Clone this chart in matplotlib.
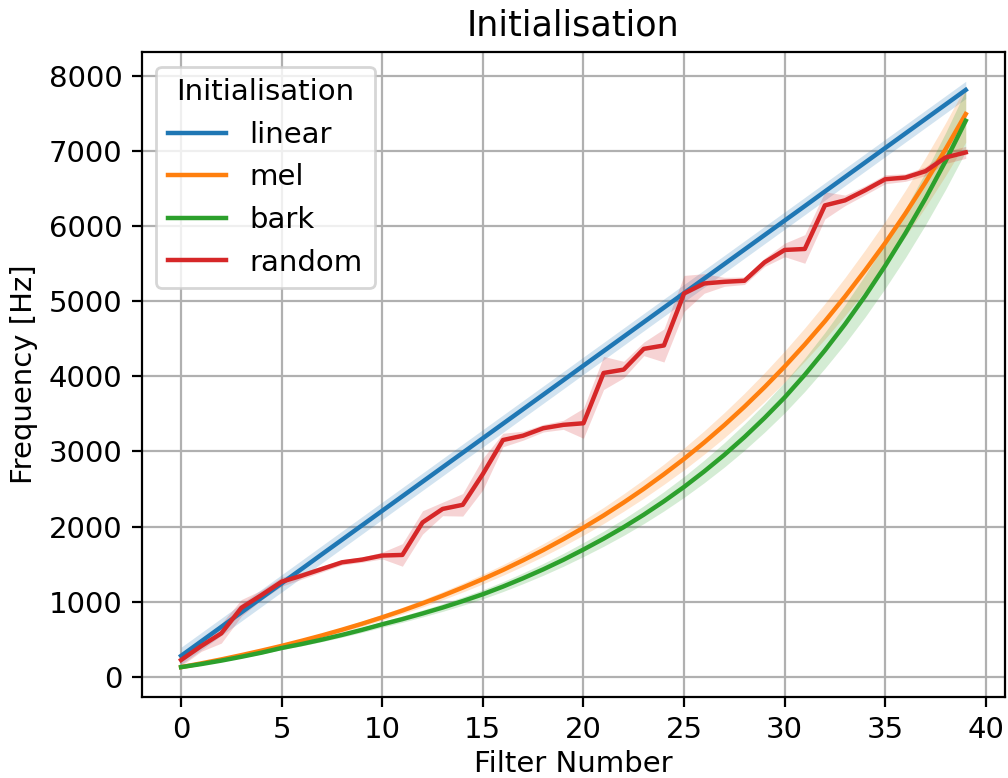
#!/usr/bin/env python3
"""Filter centre frequencies for the different filterbank initialisations."""

import matplotlib

matplotlib.use("Agg")
import matplotlib.pyplot as plt
import numpy as np

filters = list(range(40))

linear = [280, 473, 666, 859, 1052, 1245, 1438, 1632, 1825, 2018,
          2211, 2404, 2597, 2790, 2983, 3176, 3369, 3562, 3755, 3948,
          4142, 4335, 4528, 4721, 4914, 5107, 5300, 5493, 5686, 5879,
          6072, 6265, 6459, 6652, 6845, 7038, 7231, 7424, 7617, 7810]
mel = [130, 180, 233, 290, 350, 413, 481, 552, 628, 708,
       793, 883, 979, 1081, 1189, 1302, 1423, 1552, 1688, 1833,
       1986, 2148, 2321, 2503, 2697, 2901, 3119, 3350, 3595, 3855,
       4130, 4423, 4732, 5061, 5410, 5775, 6166, 6581, 7022, 7489]
bark = [130, 171, 217, 268, 323, 385, 438, 496, 559, 627,
        700, 769, 844, 923, 1009, 1100, 1202, 1313, 1431, 1558,
        1695, 1839, 1993, 2159, 2337, 2528, 2734, 2954, 3191, 3446,
        3719, 4020, 4345, 4693, 5068, 5472, 5903, 6366, 6864, 7400]
random_init = [225, 410, 580, 920, 1090, 1267, 1347, 1436, 1525, 1561,
               1615, 1623, 2055, 2235, 2290, 2700, 3152, 3210, 3309, 3354,
               3375, 4044, 4089, 4365, 4410, 5102, 5235, 5257, 5271, 5516,
               5681, 5694, 6274, 6341, 6475, 6622, 6644, 6729, 6912, 6979]

# half widths of the confidence bands
linear_ci = [115] * 40
mel_ci_frac = 0.05
bark_ci_frac = 0.055
random_ci = [80, 70, 130, 110, 65, 60, 45, 40, 35, 35,
             45, 150, 155, 90, 150, 210, 90, 60, 50, 60,
             200, 220, 110, 90, 220, 240, 130, 60, 50, 55,
             90, 190, 180, 70, 60, 60, 50, 60, 80, 80]


def main() -> None:
    plt.rcParams["font.size"] = 10.5
    plt.rcParams["axes.titlesize"] = 12.6
    fig = plt.figure(figsize=(5.04, 3.89), dpi=200)
    ax = fig.add_axes([0.1407, 0.1041, 0.8563, 0.8291])

    x = np.array(filters)
    series = [
        ("linear", "tab:blue", np.array(linear), np.array(linear_ci)),
        ("mel", "tab:orange", np.array(mel), np.array(mel) * mel_ci_frac),
        ("bark", "tab:green", np.array(bark), np.array(bark) * bark_ci_frac),
        ("random", "tab:red", np.array(random_init), np.array(random_ci)),
    ]
    for label, color, y, ci in series:
        ax.plot(x, y, color=color, lw=1.6, label=label, zorder=3)
        ax.fill_between(x, y - ci, y + ci, color=color, alpha=0.2, lw=0, zorder=2)

    ax.set_xticks(range(0, 41, 5))
    ax.set_yticks(range(0, 8001, 1000))
    ax.grid(True, zorder=0)
    ax.set_axisbelow(True)
    ax.set_title("Initialisation", pad=6)
    ax.set_xlabel("Filter Number", labelpad=2)
    ax.set_ylabel("Frequency [Hz]")
    ax.legend(title="Initialisation", loc="upper left")

    fig.savefig("out.png", dpi=200)


if __name__ == "__main__":
    main()
